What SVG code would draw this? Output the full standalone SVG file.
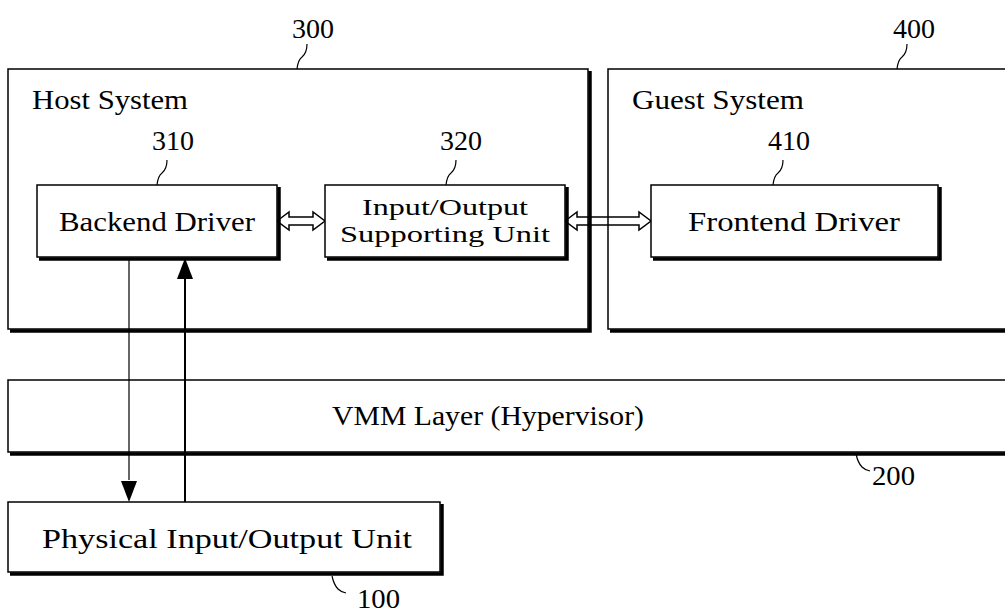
<svg xmlns="http://www.w3.org/2000/svg" width="1005" height="612" viewBox="0 0 1005 612">
  <style>
    .lbl { font-family: "Liberation Serif", "DejaVu Serif", serif; font-size: 27px; fill: #000; }
    .lbl2 { font-family: "Liberation Serif", "DejaVu Serif", serif; font-size: 24px; fill: #000; }
    .num { font-family: "Liberation Serif", "DejaVu Serif", serif; font-size: 28px; fill: #000; }
    .box { fill: #fff; stroke: #000; stroke-width: 1.5; }
    .frame { fill: none; stroke: #000; stroke-width: 1.5; }
    .shadow { fill: none; stroke: #000; stroke-width: 3.5; }
    .lead { fill: none; stroke: #000; stroke-width: 1.2; }
    .wire { fill: none; stroke: #000; }
    .dbl { fill: #fff; stroke: #000; stroke-width: 1.5; stroke-linejoin: miter; }
  </style>
  <rect width="1005" height="612" fill="#fff"/>

  <!-- connectors -->
  <g id="connectors">
    <!-- backend driver <-> I/O supporting unit -->
    <polygon class="dbl" points="277,221 289,212 289,217 313,217 313,212 325,221 313,230 313,225 289,225 289,230"/>
    <!-- I/O supporting unit <-> frontend driver -->
    <polygon class="dbl" points="565,221 577,212 577,217 639,217 639,212 651,221 639,230 639,225 577,225 577,230"/>
    <!-- backend driver -> physical unit -->
    <line class="wire" x1="129" y1="258" x2="129" y2="480" stroke-width="1.2"/>
    <polygon points="121,481 137,481 129,502" fill="#000"/>
    <!-- physical unit -> backend driver -->
    <line class="wire" x1="185" y1="502" x2="185" y2="278" stroke-width="2"/>
    <polygon points="177,279 193,279 185,258" fill="#000"/>
  </g>

  <!-- host system -->
  <g id="host-system">
    <polyline class="shadow" points="590,71 590,331 10,331"/>
    <rect class="frame" x="8" y="69" width="580" height="260"/>
    <text class="lbl" x="32" y="109" textLength="156" lengthAdjust="spacingAndGlyphs">Host System</text>
    <text class="num" x="292" y="38" textLength="42" lengthAdjust="spacingAndGlyphs">300</text>
    <path class="lead" d="M297,69 q1,-9 5,-12 q5,-4 5,-13"/>
  </g>

  <!-- guest system -->
  <g id="guest-system">
    <polyline class="shadow" points="1010,331 610,331"/>
    <rect class="frame" x="608" y="69" width="410" height="260"/>
    <text class="lbl" x="632" y="109" textLength="172" lengthAdjust="spacingAndGlyphs">Guest System</text>
    <text class="num" x="893" y="38" textLength="42" lengthAdjust="spacingAndGlyphs">400</text>
    <path class="lead" d="M897,69 q1,-9 5,-12 q5,-4 5,-13"/>
  </g>

  <!-- backend driver -->
  <g id="backend-driver">
    <polyline class="shadow" points="279,187 279,259 39,259"/>
    <rect class="box" x="37" y="185" width="240" height="72"/>
    <text class="lbl" x="157" y="231" text-anchor="middle" textLength="196" lengthAdjust="spacingAndGlyphs">Backend Driver</text>
    <text class="num" x="152" y="150" textLength="42" lengthAdjust="spacingAndGlyphs">310</text>
    <path class="lead" d="M157,185 q1,-9 5,-12 q5,-4 5,-13"/>
  </g>

  <!-- input/output supporting unit -->
  <g id="io-supporting-unit">
    <polyline class="shadow" points="567,187 567,259 327,259"/>
    <rect class="box" x="325" y="185" width="240" height="72"/>
    <text class="lbl2" x="445" y="215" text-anchor="middle" textLength="166" lengthAdjust="spacingAndGlyphs">Input/Output</text>
    <text class="lbl2" x="445" y="242" text-anchor="middle" textLength="210" lengthAdjust="spacingAndGlyphs">Supporting Unit</text>
    <text class="num" x="440" y="150" textLength="42" lengthAdjust="spacingAndGlyphs">320</text>
    <path class="lead" d="M446,185 q1,-9 5,-12 q5,-4 5,-13"/>
  </g>

  <!-- frontend driver -->
  <g id="frontend-driver">
    <polyline class="shadow" points="940,187 940,259 653,259"/>
    <rect class="box" x="651" y="185" width="287" height="72"/>
    <text class="lbl" x="794" y="231" text-anchor="middle" textLength="212" lengthAdjust="spacingAndGlyphs">Frontend Driver</text>
    <text class="num" x="768" y="150" textLength="42" lengthAdjust="spacingAndGlyphs">410</text>
    <path class="lead" d="M773,185 q1,-9 5,-12 q5,-4 5,-13"/>
  </g>

  <!-- VMM layer -->
  <g id="vmm-layer">
    <polyline class="shadow" points="10,454 1010,454"/>
    <rect class="frame" x="8" y="380" width="1010" height="72"/>
    <text class="lbl" x="488" y="425" text-anchor="middle" textLength="312" lengthAdjust="spacingAndGlyphs">VMM Layer (Hypervisor)</text>
    <path class="lead" d="M856,454 q2,9 6,13 q3,3 8,4"/>
    <text class="num" x="872" y="485" textLength="43" lengthAdjust="spacingAndGlyphs">200</text>
  </g>

  <!-- physical input/output unit -->
  <g id="physical-io-unit">
    <polyline class="shadow" points="442,504 442,574 10,574"/>
    <rect class="box" x="8" y="502" width="432" height="70"/>
    <text class="lbl" x="227" y="548" text-anchor="middle" textLength="370" lengthAdjust="spacingAndGlyphs">Physical Input/Output Unit</text>
    <path class="lead" d="M332,576 q2,9 6,13 q3,3 8,4"/>
    <text class="num" x="357" y="608" textLength="43" lengthAdjust="spacingAndGlyphs">100</text>
  </g>
</svg>
